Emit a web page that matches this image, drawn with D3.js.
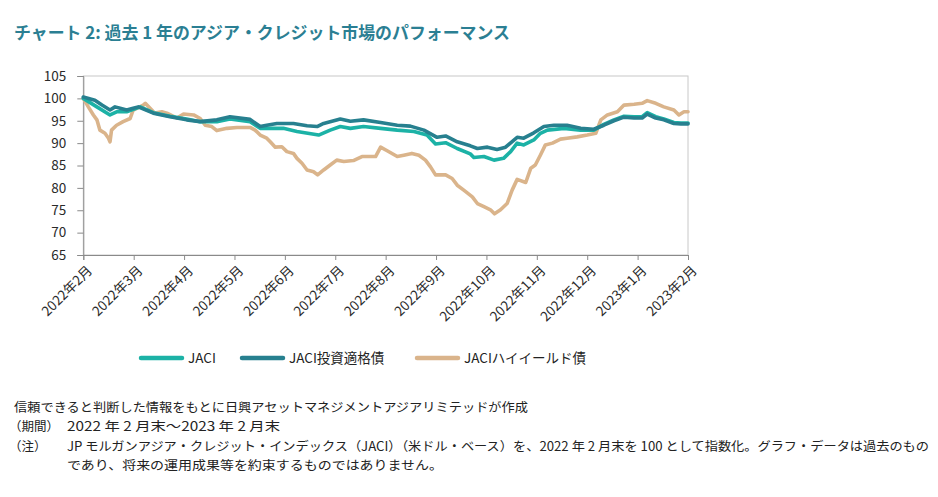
<!DOCTYPE html>
<html><head><meta charset="utf-8">
<script src="https://cdn.jsdelivr.net/npm/d3@7"></script>
<style>
body{margin:0;background:#fff;}
text{font-family:"Noto Sans CJK JP","Noto Sans",sans-serif;}
</style></head>
<body><svg id="c" width="938" height="497"></svg>
<script>
const monthLabels=["2022年2月","2022年3月","2022年4月","2022年5月","2022年6月","2022年7月","2022年8月","2022年9月","2022年10月","2022年11月","2022年12月","2023年1月","2023年2月"];
const yTicks=[65,70,75,80,85,90,95,100,105];
const seriesNames=["JACI","JACI投資適格債","JACIハイイールド債"];
const seriesColors=["#1cb2a6","#27808f","#dab48b"];
// t = month index from end-Feb 2022
const jaciT=[0,0.27,0.53,0.66,0.86,1.13,1.39,1.72,2.05,2.32,2.65,2.91,3.31,3.51,3.97,4.24,4.67,4.90,5.10,5.30,5.56,5.90,6.23,6.56,6.82,6.99,7.19,7.42,7.68,7.75,7.95,8.15,8.34,8.48,8.61,8.74,8.94,9.07,9.21,9.54,9.87,10.13,10.33,10.53,10.73,10.93,11.09,11.19,11.36,11.52,11.72,11.86,12.0];
const jaciV=[100,98.1,96.3,97.0,97.0,98.1,96.8,96.0,95.4,94.8,94.8,95.4,94.8,93.3,93.3,92.6,91.8,92.9,93.7,93.3,93.7,93.3,92.9,92.6,91.8,89.8,90.1,88.8,87.6,86.8,87.0,86.2,86.6,88.1,90.0,89.6,90.7,92.2,92.9,93.3,92.9,92.9,94.2,95.2,96.0,95.9,95.9,96.8,95.9,95.4,94.6,94.5,94.5];
const igT=[0,0.23,0.37,0.53,0.63,0.73,0.86,0.99,1.09,1.39,1.72,2.05,2.32,2.65,2.91,3.31,3.51,3.64,3.84,4.17,4.44,4.64,4.77,5.10,5.30,5.56,5.90,6.23,6.49,6.76,7.02,7.19,7.42,7.68,7.82,8.02,8.21,8.38,8.61,8.74,8.94,9.14,9.34,9.60,9.87,10.13,10.33,10.53,10.73,10.93,11.09,11.19,11.36,11.52,11.72,11.86,12.0];
const igV=[100.3,99.6,98.5,97.4,98.1,97.8,97.4,97.8,98.1,96.7,95.9,95.2,94.8,95.2,95.9,95.3,93.7,94.0,94.4,94.4,93.9,93.7,94.4,95.4,94.9,95.2,94.6,94.0,93.8,92.9,91.3,91.6,90.3,89.4,88.8,89.1,88.6,89.1,91.3,91.1,92.3,93.7,94.0,94.0,93.3,93.1,94.0,95.0,95.8,95.6,95.6,96.5,95.6,95.2,94.4,94.3,94.3];
const hyT=[0,0.10,0.20,0.27,0.33,0.43,0.50,0.53,0.56,0.66,0.79,0.93,0.99,1.19,1.23,1.42,1.56,1.66,1.86,1.99,2.19,2.32,2.42,2.55,2.65,2.85,3.05,3.31,3.41,3.51,3.64,3.71,3.81,3.94,4.04,4.17,4.24,4.34,4.44,4.57,4.65,4.77,4.90,5.03,5.17,5.36,5.53,5.80,5.90,6.03,6.23,6.36,6.52,6.66,6.79,6.89,6.99,7.19,7.32,7.42,7.55,7.72,7.82,7.95,8.08,8.16,8.28,8.41,8.51,8.61,8.78,8.88,8.97,9.07,9.17,9.31,9.47,9.60,9.80,10.0,10.17,10.27,10.40,10.60,10.73,10.93,11.09,11.19,11.36,11.52,11.72,11.82,11.92,12.0];
const hyV=[100,98.1,96.3,95.2,92.9,92.2,91.1,90.3,92.9,94.0,94.8,95.5,97.4,98.5,98.9,96.7,97.0,96.7,95.6,96.5,96.3,95.5,94.0,93.7,92.8,93.3,93.5,93.5,92.9,91.8,91.1,90.3,89.1,89.2,88.1,87.7,86.6,85.5,84.0,83.6,82.9,84.0,85.1,86.2,85.9,86.1,87.0,87.0,89.1,88.3,87.0,87.3,87.7,87.3,86.2,84.7,82.9,82.9,82.1,80.6,79.5,78.0,76.5,75.8,75.1,74.2,75.1,76.5,79.5,81.9,81.2,84.4,85.1,87.3,89.6,90.0,90.9,91.1,91.4,91.8,92.2,95.2,96.3,97.0,98.5,98.7,98.9,99.5,98.9,98.1,97.4,96.3,97.0,97.0];

const svg=d3.select("#c");
const L=83.3,R=688,T=76,B=255;
const x=d3.scaleLinear().domain([0,12]).range([L,R]);
const y=d3.scaleLinear().domain([65,105]).range([B,T]);

svg.append("text").attr("x",14).attr("y",39).attr("fill","#2b7f93").attr("font-size",17).attr("font-weight","bold")
  .attr("textLength",496).attr("lengthAdjust","spacingAndGlyphs")
  .text("チャート 2: 過去 1 年のアジア・クレジット市場のパフォーマンス");

// frame
svg.append("rect").attr("x",L).attr("y",T).attr("width",R-L).attr("height",B-T).attr("fill","none").attr("stroke","#c8c8c8").attr("stroke-width",1);

const ya=svg.append("g").attr("transform",`translate(${L},0)`).call(d3.axisLeft(y).tickValues(yTicks).tickSize(6).tickPadding(11));
const xa=svg.append("g").attr("transform",`translate(0,${B})`).call(d3.axisBottom(x).tickValues(d3.range(13)).tickSize(5).tickFormat(i=>monthLabels[i]));
[ya,xa].forEach(a=>{a.select(".domain").attr("stroke","#8a8a8a");a.selectAll(".tick line").attr("stroke","#8a8a8a");
  a.selectAll("text").attr("fill","#2a2a2a").attr("font-size",13.5).attr("font-family","'Open Sans','Noto Sans CJK JP',sans-serif");});
xa.selectAll("text").attr("text-anchor","end").attr("dy","0.35em").attr("y",0).attr("font-size",13.5)
  .attr("transform","translate(6,13) rotate(-45)");

const line=d3.line().x(d=>x(d[0])).y(d=>y(d[1]));
const data=[[jaciT,jaciV],[igT,igV],[hyT,hyV]];
const order=[2,0,1];
order.forEach(i=>{
  const pts=data[i][0].map((t,k)=>[t,data[i][1][k]]);
  svg.append("path").attr("d",line(pts)).attr("fill","none").attr("stroke",seriesColors[i]).attr("stroke-width",3.6).attr("stroke-linejoin","round").attr("stroke-linecap","round");
});

// legend
const lx=[141,242,417];
seriesNames.forEach((n,i)=>{
  svg.append("line").attr("x1",lx[i]).attr("x2",lx[i]+41).attr("y1",358).attr("y2",358).attr("stroke",seriesColors[i]).attr("stroke-width",4.5).attr("stroke-linecap","round");
  svg.append("text").attr("x",lx[i]+47).attr("y",363).attr("font-size",13.5).attr("fill","#222").text(n);
});

const foot=svg.append("g").attr("font-size",12.5).attr("fill","#222");
foot.append("text").attr("x",14).attr("y",412).attr("textLength",514).attr("lengthAdjust","spacingAndGlyphs").text("信頼できると判断した情報をもとに日興アセットマネジメントアジアリミテッドが作成");
foot.append("text").attr("x",9).attr("y",431).text("（期間）");
foot.append("text").attr("x",67).attr("y",431).attr("textLength",213).attr("lengthAdjust","spacingAndGlyphs").text("2022 年 2 月末～2023 年 2 月末");
foot.append("text").attr("x",9).attr("y",451).text("（注）");
foot.append("text").attr("x",67).attr("y",451).attr("textLength",862).attr("lengthAdjust","spacingAndGlyphs").text("JP モルガンアジア・クレジット・インデックス（JACI）（米ドル・ベース）を、2022 年 2 月末を 100 として指数化。グラフ・データは過去のもの");
foot.append("text").attr("x",67).attr("y",470).attr("textLength",376).attr("lengthAdjust","spacingAndGlyphs").text("であり、将来の運用成果等を約束するものではありません。");
</script></body></html>
